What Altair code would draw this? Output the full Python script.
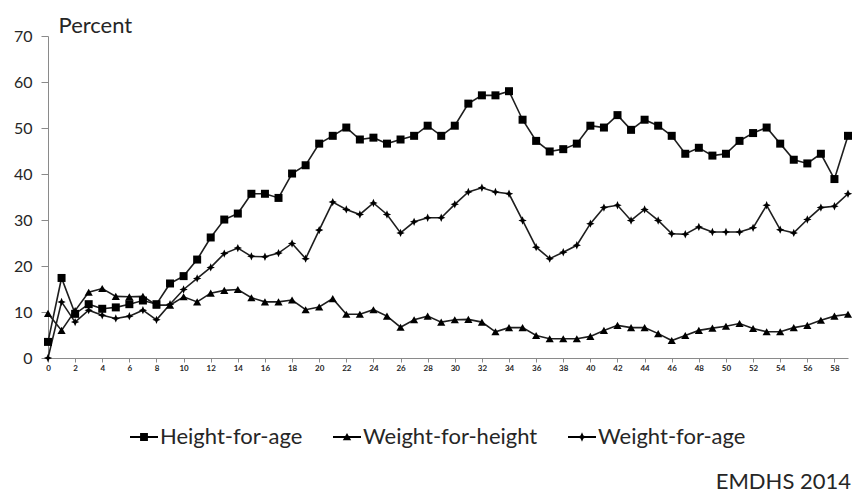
import altair as alt
import pandas as pd

ages = list(range(60))
height_for_age = [3.5, 17.4, 9.6, 11.7, 10.7, 11.0, 11.7, 12.5, 11.7, 16.2,
                  17.8, 21.4, 26.2, 30.1, 31.4, 35.7, 35.7, 34.8, 40.1, 41.9,
                  46.6, 48.3, 50.1, 47.5, 47.9, 46.6, 47.5, 48.3, 50.5, 48.3,
                  50.5, 55.3, 57.1, 57.1, 58.0, 51.8, 47.2, 44.9, 45.4, 46.6,
                  50.5, 50.1, 52.8, 49.6, 51.8, 50.5, 48.3, 44.4, 45.7, 44.0,
                  44.4, 47.2, 48.9, 50.1, 46.6, 43.1, 42.3, 44.4, 38.9, 48.3]
weight_for_height = [9.7, 6.0, 10.3, 14.3, 15.1, 13.4, 13.3, 13.4, 11.5, 11.5,
                     13.3, 12.2, 14.1, 14.7, 14.9, 13.1, 12.2, 12.2, 12.6, 10.5,
                     11.1, 12.9, 9.5, 9.5, 10.5, 9.1, 6.7, 8.3, 9.1, 7.8,
                     8.3, 8.4, 7.8, 5.7, 6.6, 6.6, 4.9, 4.2, 4.2, 4.2,
                     4.7, 6.0, 7.1, 6.6, 6.6, 5.3, 3.8, 4.9, 6.0, 6.5,
                     6.9, 7.5, 6.4, 5.7, 5.7, 6.6, 7.1, 8.2, 9.1, 9.5]
weight_for_age = [0.0, 12.2, 7.8, 10.4, 9.3, 8.6, 9.1, 10.4, 8.3, 11.7,
                  14.9, 17.3, 19.7, 22.7, 23.9, 22.1, 22.0, 22.8, 24.9, 21.6,
                  27.8, 33.9, 32.3, 31.2, 33.7, 31.2, 27.2, 29.6, 30.5, 30.5,
                  33.4, 36.1, 37.0, 36.1, 35.7, 29.9, 24.1, 21.6, 23.0, 24.5,
                  29.2, 32.7, 33.2, 29.9, 32.3, 29.9, 27.0, 26.9, 28.5, 27.4,
                  27.4, 27.4, 28.3, 33.2, 27.9, 27.2, 30.1, 32.7, 33.0, 35.7]
series_names = ["Height-for-age", "Weight-for-height", "Weight-for-age"]
x_tick_values = list(range(0, 59, 2))
y_tick_values = list(range(0, 71, 10))

rows = []
for name, vals in zip(series_names, [height_for_age, weight_for_height, weight_for_age]):
    for a, v in zip(ages, vals):
        rows.append({"age": a, "pct": v, "series": name})
df = pd.DataFrame(rows)

FONT = "Lato"
TXT = "#262626"
AX = "#8a8a8a"

star = "M0,-1L0.3,-0.3L1,0L0.3,0.3L0,1L-0.3,0.3L-1,0L-0.3,-0.3Z"
plot_shapes = ["square", "triangle-up", star]
bar = "M-1,-0.07H1V0.07H-1Z"
leg_shapes = [
    bar + "M-0.28,-0.28H0.28V0.28H-0.28Z",
    bar + "M-0.3,0.24L0,-0.28L0.3,0.24Z",
    bar + "M0,-0.34L0.1,-0.1L0.34,0L0.1,0.1L0,0.34L-0.1,0.1L-0.34,0L-0.1,-0.1Z",
]

x_enc = alt.X("age:Q", scale=alt.Scale(domain=[0, 59], nice=False, zero=False),
              axis=alt.Axis(values=x_tick_values, title=None, grid=False,
                            labelFontSize=8, labelFontWeight="bold", labelColor=TXT,
                            labelFont=FONT, domainColor=AX, tickColor=AX, tickSize=4,
                            labelPadding=2, labelFlush=False))
y_enc = alt.Y("pct:Q", scale=alt.Scale(domain=[0, 70], nice=False),
              axis=alt.Axis(values=y_tick_values, grid=False, title="Percent",
                            titleAngle=0, titleX=10, titleY=-4, titleAlign="left",
                            titleBaseline="alphabetic", titleFontSize=22,
                            titleFontWeight="normal", titleFont=FONT, titleColor=TXT,
                            labelFontSize=16, labelColor=TXT, labelFont=FONT,
                            domainColor=AX, tickColor=AX, tickSize=7, labelPadding=9))

lines = alt.Chart(df).mark_line(color="#1e1e1e", strokeWidth=1.6).encode(
    x=x_enc, y=y_enc, detail="series:N")

points = alt.Chart(df).mark_point(filled=True, color="black", opacity=1).encode(
    x=x_enc, y=y_enc,
    shape=alt.Shape("series:N", scale=alt.Scale(domain=series_names, range=plot_shapes), legend=None),
    size=alt.Size("series:N", scale=alt.Scale(domain=series_names, range=[64, 70, 90]), legend=None),
)

legend_layer = alt.Chart(df).mark_point(filled=True, color="black", opacity=0).encode(
    x=x_enc, y=y_enc,
    shape=alt.Shape("series:N", scale=alt.Scale(domain=series_names, range=leg_shapes),
                    legend=alt.Legend(title=None, orient="none", direction="horizontal",
                                      legendX=82, legendY=387, columns=3, columnPadding=30,
                                      symbolSize=784, labelFontSize=22, labelFont=FONT,
                                      labelColor=TXT, labelOffset=2, symbolOpacity=1,
                                      symbolStrokeColor="black", symbolFillColor="black",
                                      symbolStrokeWidth=0, labelLimit=300)),
)

credit = alt.Chart(pd.DataFrame({"t": ["EMDHS 2014"]})).mark_text(
    align="right", baseline="alphabetic", fontSize=22, font=FONT, color=TXT
).encode(text="t:N", x=alt.value(803), y=alt.value(453))

chart = alt.layer(lines, points, legend_layer, credit).resolve_scale(
    shape="independent", size="independent"
).properties(
    width=800, height=322,
    autosize=alt.AutoSizeParams(type="none"),
    padding={"left": 40, "top": 28, "right": 5, "bottom": 139},
).configure_view(stroke=None)

chart.save("out.html", embed_options={"renderer": "svg", "actions": False})
